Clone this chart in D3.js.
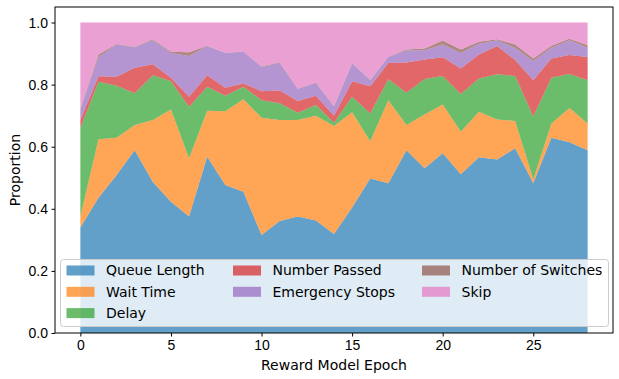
<!DOCTYPE html>
<html>
<head>
<meta charset="utf-8">
<script src="https://cdn.jsdelivr.net/npm/d3@7"></script>
<style>
  body { margin: 0; background: #fff; }
  svg { font-family: "DejaVu Sans", sans-serif; }
  .axis text { font-size: 14px; fill: #000; }
  .axis path, .axis line { stroke: #000; }
</style>
</head>
<body>
<svg id="chart" width="619" height="379"></svg>
<script>
// DATA
var epochs = d3.range(0, 29);
var seriesNames = ["Queue Length", "Wait Time", "Delay", "Number Passed", "Emergency Stops", "Number of Switches", "Skip"];
var colors = ["#1f77b4", "#ff7f0e", "#2ca02c", "#d62728", "#9467bd", "#8c564b", "#e377c2"];

var queueLength = [0.340, 0.436, 0.509, 0.589, 0.486, 0.423, 0.375, 0.568, 0.477, 0.455, 0.316, 0.361, 0.375, 0.362, 0.319,
  0.404, 0.498, 0.482, 0.589, 0.531, 0.579, 0.511, 0.566, 0.559, 0.595, 0.482, 0.629, 0.614, 0.589];
var waitTime = [0.035, 0.188, 0.120, 0.081, 0.200, 0.297, 0.188, 0.148, 0.237, 0.298, 0.377, 0.325, 0.311, 0.338, 0.348,
  0.307, 0.120, 0.268, 0.081, 0.173, 0.157, 0.137, 0.147, 0.129, 0.088, 0.013, 0.046, 0.111, 0.086];
var delay = [0.285, 0.185, 0.167, 0.102, 0.144, 0.091, 0.166, 0.077, 0.050, 0.040, 0.057, 0.054, 0.023, 0.034, 0.010,
  0.050, 0.089, 0.067, 0.104, 0.114, 0.092, 0.122, 0.107, 0.145, 0.145, 0.202, 0.147, 0.109, 0.139];
var numberPassed = [0.026, 0.018, 0.029, 0.082, 0.036, 0.011, 0.032, 0.037, 0.026, 0.011, 0.029, 0.041, 0.038, 0.030, 0.023,
  0.050, 0.088, 0.053, 0.097, 0.063, 0.060, 0.082, 0.077, 0.091, 0.051, 0.117, 0.062, 0.061, 0.075];
var emergencyStops = [0.032, 0.062, 0.104, 0.066, 0.077, 0.080, 0.131, 0.094, 0.112, 0.102, 0.078, 0.089, 0.039, 0.042, 0.029,
  0.057, 0.019, 0.019, 0.039, 0.030, 0.041, 0.050, 0.035, 0.019, 0.039, 0.062, 0.035, 0.048, 0.030];
var numberOfSwitches = [0.004, 0.008, 0.002, 0.002, 0.003, 0.004, 0.012, 0.001, 0.001, 0.001, 0.001, 0.002, 0.001, 0.001, 0.002,
  0.002, 0.001, 0.001, 0.003, 0.005, 0.013, 0.011, 0.006, 0.003, 0.011, 0.008, 0.006, 0.005, 0.008];
var skip = [0.278, 0.103, 0.069, 0.078, 0.054, 0.094, 0.096, 0.075, 0.097, 0.093, 0.142, 0.128, 0.213, 0.193, 0.269,
  0.130, 0.185, 0.110, 0.087, 0.084, 0.058, 0.087, 0.062, 0.054, 0.071, 0.116, 0.075, 0.052, 0.073];

var xTicks = [0, 5, 10, 15, 20, 25];
var yTicks = [0.0, 0.2, 0.4, 0.6, 0.8, 1.0];

// SETUP
var svg = d3.select("#chart"),
  margin = { top: 7, right: 6, bottom: 46, left: 55 },
  width = 619 - margin.left - margin.right,
  height = 379 - margin.top - margin.bottom;

var allSeries = [queueLength, waitTime, delay, numberPassed, emergencyStops, numberOfSwitches, skip];
var table = epochs.map(function (e, i) {
  var row = { epoch: e };
  seriesNames.forEach(function (name, k) { row[name] = allSeries[k][i]; });
  return row;
});

var x = d3.scaleLinear().domain([-1.4, 29.4]).range([0, width]);
var y = d3.scaleLinear().domain([0, 1.05]).range([height, 0]);

var g = svg.append("g")
  .attr("transform", "translate(" + margin.left + "," + margin.top + ")");

// DRAWING
var stacked = d3.stack().keys(seriesNames)(table);

var area = d3.area()
  .x(function (d) { return x(d.data.epoch); })
  .y0(function (d) { return y(d[0]); })
  .y1(function (d) { return y(d[1]); });

g.selectAll(".layer")
  .data(stacked)
  .enter().append("path")
  .attr("class", "layer")
  .attr("d", area)
  .attr("fill", function (d, i) { return colors[i]; })
  .attr("fill-opacity", 0.7)
  .attr("stroke", "none");

g.append("g")
  .attr("class", "axis axis--x")
  .attr("transform", "translate(0," + height + ")")
  .call(d3.axisBottom(x).tickValues(xTicks).tickSize(3.5).tickPadding(3.5).tickFormat(d3.format("d")));

g.append("g")
  .attr("class", "axis axis--y")
  .call(d3.axisLeft(y).tickValues(yTicks).tickSize(3.5).tickPadding(3.5).tickFormat(d3.format(".1f")));

g.selectAll(".axis .domain").remove();

// frame
g.append("rect")
  .attr("x", 0).attr("y", 0)
  .attr("width", width).attr("height", height)
  .attr("fill", "none")
  .attr("stroke", "#000")
  .attr("stroke-width", 1);

// labels
svg.append("text")
  .attr("x", margin.left + width / 2)
  .attr("y", 370)
  .attr("text-anchor", "middle")
  .style("font-size", "14px")
  .text("Reward Model Epoch");

svg.append("text")
  .attr("transform", "translate(20," + (margin.top + height / 2) + ") rotate(-90)")
  .attr("text-anchor", "middle")
  .style("font-size", "14px")
  .text("Proportion");

// LEGEND
var legend = svg.append("g").attr("transform", "translate(60.5,259.5)");
legend.append("rect")
  .attr("width", 548)
  .attr("height", 67)
  .attr("rx", 3)
  .attr("fill", "#fff")
  .attr("fill-opacity", 0.8)
  .attr("stroke", "#ccc");

var colX = [6, 172.5, 361.5];
var items = legend.selectAll(".item")
  .data(seriesNames)
  .enter().append("g")
  .attr("class", "item")
  .attr("transform", function (d, i) {
    var col = Math.floor(i / 3), row = i % 3;
    if (i >= 5) { col = 2; row = i - 5; }
    return "translate(" + colX[col] + "," + (6 + row * 21.3) + ")";
  });

items.append("rect")
  .attr("width", 28)
  .attr("height", 10)
  .attr("fill", function (d, i) { return colors[i]; })
  .attr("fill-opacity", 0.7);

items.append("text")
  .attr("x", 39.5)
  .attr("y", 5)
  .attr("dy", "0.35em")
  .style("font-size", "14px")
  .text(function (d) { return d; });
</script>
</body>
</html>
